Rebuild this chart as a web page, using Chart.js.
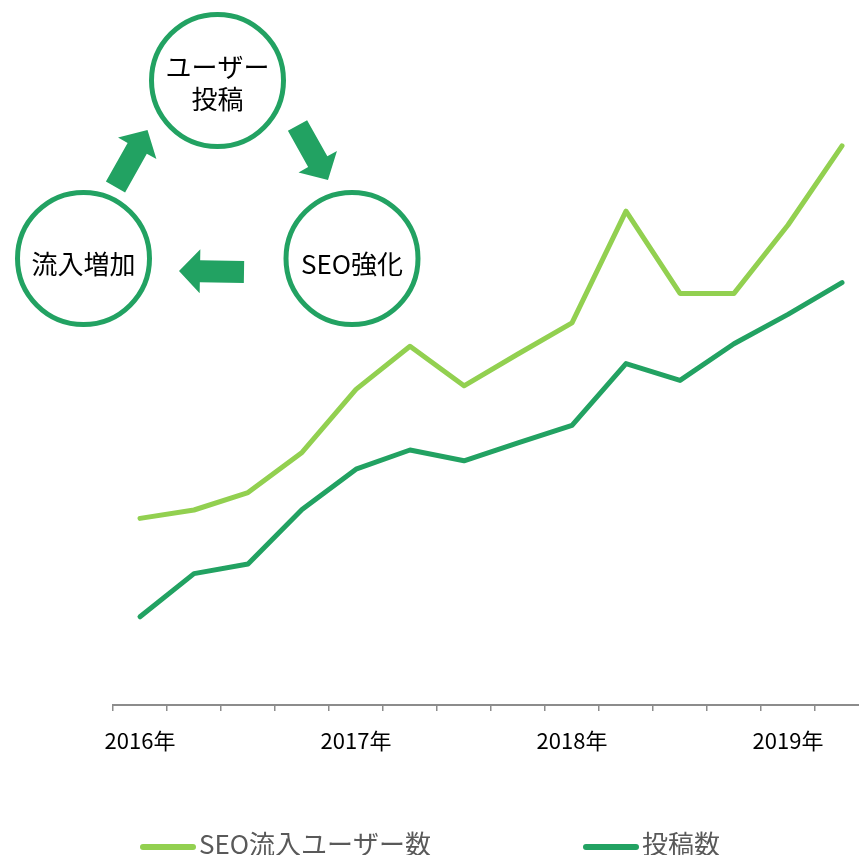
<!DOCTYPE html>
<html>
<head>
<meta charset="utf-8">
<script src="https://cdn.jsdelivr.net/npm/chart.js@4/dist/chart.umd.min.js"></script>
<style>
    html, body { margin: 0; padding: 0; overflow: hidden; background: #fff; }
    #wrap { width: 859px; height: 855px; overflow: hidden; }
</style>
</head>
<body>
<div id="wrap">
    <canvas id="seo-chart" width="869" height="855"></canvas>
</div>
<script>
// Tick labels (one per period, year only every 4th)
let periods = ['2016年', '', '', '', '2017年', '', '', '', '2018年', '', '', '', '2019年', ''];

// Series values (relative scale 0-100)
let seoUsers = [31.1, 32.5, 35.4, 42.1, 52.6, 59.8, 53.2, 58.5, 63.7, 82.3, 68.6, 68.6, 80.0, 93.2];
let postCounts = [14.7, 21.9, 23.5, 32.6, 39.3, 42.5, 40.7, 43.7, 46.6, 56.9, 54.1, 60.2, 65.1, 70.4];

let seriesNames = ['SEO流入ユーザー数', '投稿数'];

let lightGreen = '#92D050';
let darkGreen = '#22A262';
let jpFont = '"Noto Sans CJK JP", "Noto Sans", sans-serif';

// Draws a block arrow from tail to tip
function blockArrow(ctx, x1, y1, x2, y2) {
    let dx = x2 - x1, dy = y2 - y1;
    let len = Math.sqrt(dx * dx + dy * dy);
    let ux = dx / len, uy = dy / len;
    let nx = -uy, ny = ux;
    let headLen = 21, shaft = 11, head = 22;
    let bx = x2 - ux * headLen, by = y2 - uy * headLen;
    ctx.beginPath();
    ctx.moveTo(x1 + nx * shaft, y1 + ny * shaft);
    ctx.lineTo(bx + nx * shaft, by + ny * shaft);
    ctx.lineTo(bx + nx * head, by + ny * head);
    ctx.lineTo(x2, y2);
    ctx.lineTo(bx - nx * head, by - ny * head);
    ctx.lineTo(bx - nx * shaft, by - ny * shaft);
    ctx.lineTo(x1 - nx * shaft, y1 - ny * shaft);
    ctx.closePath();
    ctx.fill();
}

// Cycle diagram + legend drawn over the chart
let cyclePlugin = {
    id: 'cycle',
    afterDraw(chart) {
        let ctx = chart.ctx;
        ctx.save();

        let circles = [
            { x: 217.5, y: 80.5, lines: ['ユーザー', '投稿'] },
            { x: 83.5, y: 258.5, lines: ['流入増加'] },
            { x: 352, y: 258.5, lines: ['SEO強化'] }
        ];
        circles.forEach(c => {
            ctx.beginPath();
            ctx.arc(c.x, c.y, 66, 0, Math.PI * 2);
            ctx.fillStyle = '#fff';
            ctx.fill();
            ctx.lineWidth = 5;
            ctx.strokeStyle = darkGreen;
            ctx.stroke();

            ctx.fillStyle = '#000';
            ctx.font = '26px ' + jpFont;
            ctx.textAlign = 'center';
            ctx.textBaseline = 'middle';
            if (c.lines.length == 2) {
                ctx.fillText(c.lines[0], c.x, c.y - 13);
                ctx.fillText(c.lines[1], c.x, c.y + 19);
            } else {
                ctx.fillText(c.lines[0], c.x, c.y + 6);
            }
        });

        ctx.fillStyle = darkGreen;
        blockArrow(ctx, 115.5, 187, 147.5, 130);
        blockArrow(ctx, 297.5, 125.5, 328, 180);
        blockArrow(ctx, 244, 272, 179, 271);

        // legend
        let legendX = [140, 583];
        chart.data.datasets.forEach((ds, i) => {
            let x = legendX[i];
            ctx.beginPath();
            ctx.moveTo(x + 3, 847);
            ctx.lineTo(x + 53, 847);
            ctx.lineWidth = 6;
            ctx.lineCap = 'round';
            ctx.strokeStyle = ds.borderColor;
            ctx.stroke();

            ctx.fillStyle = '#595959';
            ctx.font = '26px ' + jpFont;
            ctx.textAlign = 'left';
            ctx.textBaseline = 'middle';
            ctx.fillText(ds.label, x + 59, 844);
        });

        ctx.restore();
    }
};

let seoChart = new Chart(document.getElementById('seo-chart'),
    {
        type: 'line',
        data: {
            labels: periods,
            datasets: [
                {
                    label: seriesNames[0],
                    data: seoUsers,
                    borderColor: lightGreen,
                    backgroundColor: lightGreen
                },
                {
                    label: seriesNames[1],
                    data: postCounts,
                    borderColor: darkGreen,
                    backgroundColor: darkGreen
                }
            ]
        },
        options: {
            responsive: false,
            animation: false,
            layout: { padding: { left: 113, top: 105, right: 0, bottom: 0 } },
            elements: {
                point: { radius: 0 },
                line: { borderWidth: 5, tension: 0, borderJoinStyle: 'round', borderCapStyle: 'round' }
            },
            plugins: {
                legend: { display: false },
                tooltip: { enabled: false }
            },
            scales: {
                x: {
                    type: 'category',
                    offset: true,
                    grid: { offset: true, drawOnChartArea: false, tickLength: 6, color: '#8c8c8c', lineWidth: 1.5 },
                    border: { display: true, color: '#8c8c8c', width: 2 },
                    ticks: {
                        autoSkip: false,
                        maxRotation: 0,
                        color: '#000',
                        padding: 16,
                        font: { size: 22, family: jpFont }
                    },
                    afterFit: scale => { scale.height = 150; }
                },
                y: {
                    display: false,
                    min: 0,
                    max: 100
                }
            }
        },
        plugins: [cyclePlugin]
    }
);
</script>
</body>
</html>
